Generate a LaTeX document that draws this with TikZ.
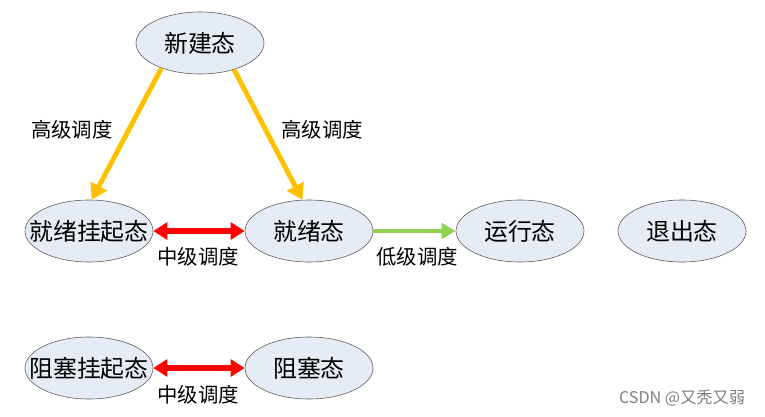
\documentclass[tikz,border=0pt]{standalone}
\usepackage{fontspec}
\setmainfont{Noto Sans CJK SC}
\usetikzlibrary{shapes.geometric,arrows.meta}
\definecolor{statefill}{HTML}{E6ECF6}
\definecolor{statedraw}{HTML}{555555}
\definecolor{highcol}{HTML}{FFC000}
\definecolor{lowcol}{HTML}{92D050}
\begin{document}
\begin{tikzpicture}[x=0.025cm, y=-0.025cm,
  state/.style={ellipse, draw=statedraw, fill=statefill, minimum width=3.2cm, minimum height=1.55cm,
    inner xsep=-12pt, inner ysep=0pt, font=\fontsize{17}{20}\selectfont},
  lbl/.style={font=\fontsize{14.5}{17}\selectfont, inner sep=0pt},
  high/.style={draw=highcol, line width=3.5pt, -{Triangle[length=11pt, width=13pt]}},
  mid/.style={draw=red, line width=4pt, {Triangle[length=10pt, width=12pt]}-{Triangle[length=10pt, width=12pt]}},
  low/.style={draw=lowcol, line width=3.5pt, -{Triangle[length=10pt, width=11pt]}}]
  \useasboundingbox (0,0) rectangle (765,416);
  % Nodes
  \node (new) [state] at (200, 43) {新建态};
  \node (rdysus) [state] at (89, 231) {就绪挂起态};
  \node (ready) [state] at (309, 231) {就绪态};
  \node (run) [state] at (520, 231) {运行态};
  \node (exit) [state] at (682, 231) {退出态};
  \node (blksus) [state] at (89, 368) {阻塞挂起态};
  \node (blocked) [state] at (309, 368) {阻塞态};
  % Arrows
  \draw[high] (new.213) -- (rdysus.85);
  \draw[high] (new.322) -- (ready.102);
  \draw[mid] (rdysus) -- (ready);
  \draw[low] (ready) -- (run);
  \draw[mid] (blksus) -- (blocked);
  % Labels
  \node (hl) [lbl] at (72, 130) {高级调度};
  \node (hr) [lbl] at (322, 130) {高级调度};
  \node (m1) [lbl] at (198, 257) {中级调度};
  \node (lo) [lbl] at (417, 257) {低级调度};
  \node (m2) [lbl] at (198, 395) {中级调度};
  % Watermark
  \node (mark) [font=\fontsize{11.5}{13}\selectfont, text=gray, inner sep=0pt] at (682, 398) {CSDN @又秃又弱};
\end{tikzpicture}
\end{document}
